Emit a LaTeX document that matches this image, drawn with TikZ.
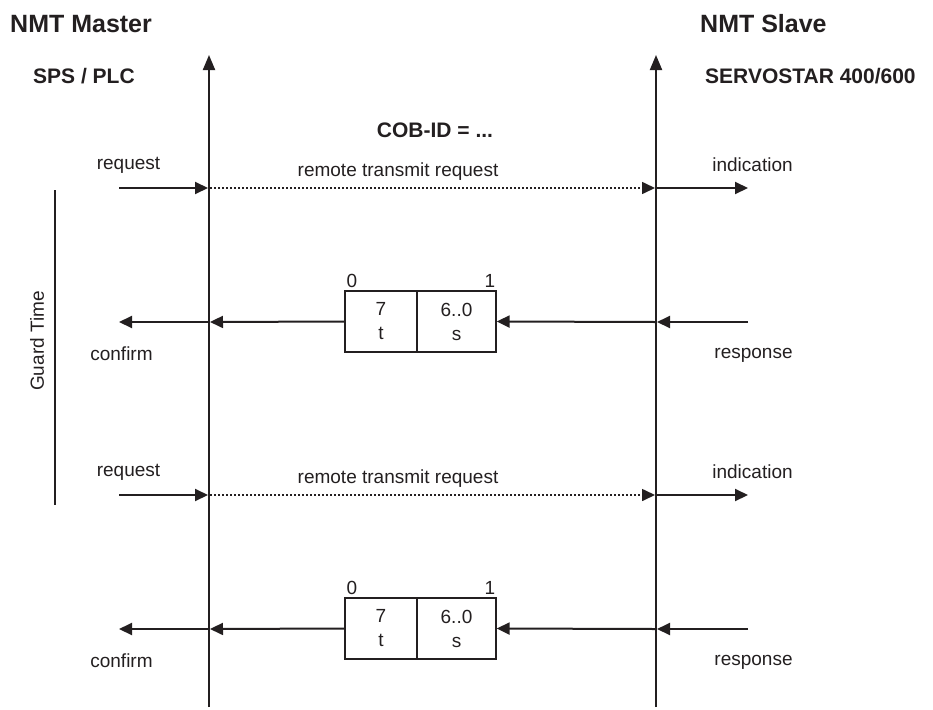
\documentclass[tikz,border=0pt]{standalone}
\usepackage{fontspec}
\setmainfont{Liberation Sans}
\usetikzlibrary{arrows.meta}
\definecolor{ink}{HTML}{231F20}
\begin{document}
\begin{tikzpicture}[x=1pt,y=-1pt,
  lbl/.style={font=\fontsize{19}{23}\selectfont, text=ink, inner sep=0pt},
  ttl/.style={font=\fontsize{25}{30}\selectfont\bfseries, text=ink, inner sep=0pt},
  sub/.style={font=\fontsize{21}{25}\selectfont\bfseries, text=ink, inner sep=0pt},
  msg/.style={draw=ink, line width=2pt, -{Triangle[length=13pt,width=12pt]}},
  dotmsg/.style={draw=ink, line width=1.6pt, dash pattern=on 2pt off 2pt, -{Triangle[length=13pt,width=12pt]}},
  life/.style={draw=ink, line width=2pt, -{Triangle[length=15pt,width=12pt]}},
  cell/.style={draw=ink, line width=1.3pt, minimum height=61pt, inner sep=0pt, align=center,
     font=\fontsize{19}{24}\selectfont, text=ink},
  guard/.style={draw=ink, line width=1.3pt}]
\useasboundingbox (0,0) rectangle (933,709);

% titles
\node[ttl, anchor=west] (master) at (10,24) {NMT Master};
\node[sub, anchor=west] (plc) at (33,76) {SPS / PLC};
\node[ttl, anchor=west] (slave) at (700,24) {NMT Slave};
\node[sub, anchor=west] (servo) at (705,76) {SERVOSTAR 400/600};
\node[sub] (cob) at (435,130) {COB-ID = ...};

% lifelines
\coordinate (Mbot) at (209,707);
\coordinate (Mtop) at (209,55);
\coordinate (Sbot) at (656,707);
\coordinate (Stop) at (656,55);
\draw[life] (Mbot) -- (Mtop);
\draw[life] (Sbot) -- (Stop);

% guard time
\coordinate (gt1) at (55,190);
\coordinate (gt2) at (55,505);
\draw[guard] (gt1) -- (gt2);
\node[lbl, rotate=90] (guardtxt) at (37,341) {Guard Time};

\foreach \i/\d in {a/0, b/307} {
  % request / indication
  \node[lbl] (req\i) at (128.5,{165+\d}) {request};
  \node[lbl] (rtr\i) at (398,{172+\d}) {remote transmit request};
  \node[lbl] (ind\i) at (752.5,{165+\d}) {indication};
  \coordinate (rqs\i) at (119,{188+\d});
  \coordinate (rqe\i) at (208,{188+\d});
  \coordinate (dts\i) at (210,{188+\d});
  \coordinate (dte\i) at (655,{188+\d});
  \coordinate (ins\i) at (657,{188+\d});
  \coordinate (ine\i) at (748,{188+\d});
  \draw[msg] (rqs\i) -- (rqe\i);
  \draw[dotmsg] (dts\i) -- (dte\i);
  \draw[msg] (ins\i) -- (ine\i);

  % frame box
  \node[cell, minimum width=72pt] (ct\i) at (381,{321.5+\d}) {7\\t};
  \node[cell, minimum width=79pt] (cs\i) at (456.5,{321.5+\d}) {6..0\\s};
  \node[lbl] (zero\i) at (352,{281+\d}) {0};
  \node[lbl] (one\i) at (490,{281+\d}) {1};

  % response / confirm
  \node[lbl] (rsp\i) at (753.5,{355+\d}) {response};
  \node[lbl] (cnf\i) at (121.5,{354+\d}) {confirm};
  \coordinate (rss\i) at (748,{322+\d});
  \coordinate (rse\i) at (657,{322+\d});
  \coordinate (rbs\i) at (655,{322+\d});
  \coordinate (cfs\i) at (208,{322+\d});
  \coordinate (cfe\i) at (119,{322+\d});
  \coordinate (cle\i) at (210,{322+\d});
  \draw[msg] (rss\i) -- (rse\i);
  \draw[msg] (rbs\i) -- (cs\i.east);
  \draw[msg] (ct\i.west) -- (cle\i);
  \draw[msg] (cfs\i) -- (cfe\i);
}
\end{tikzpicture}
\end{document}
